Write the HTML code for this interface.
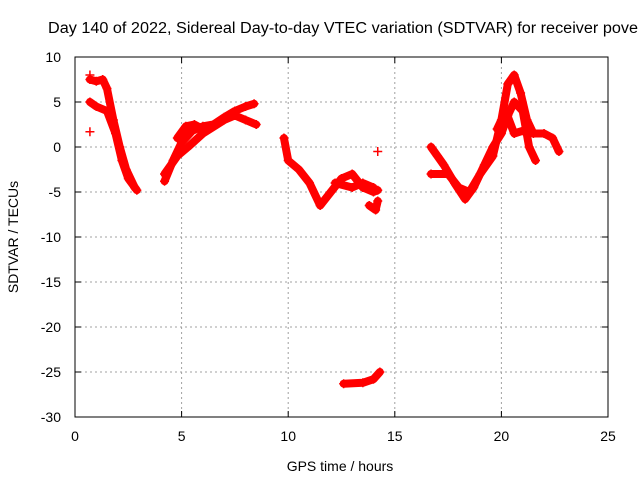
<!DOCTYPE html>
<html><head><meta charset="utf-8"><style>
body{margin:0;background:#fff;overflow:hidden}
svg{display:block;font-family:"Liberation Sans",sans-serif}
</style></head><body>
<svg id="chart" width="640" height="480" viewBox="0 0 640 480">
<text x="48" y="33" font-size="15.5" textLength="590" lengthAdjust="spacingAndGlyphs">Day 140 of 2022, Sidereal Day-to-day VTEC variation (SDTVAR) for receiver pove</text>
<g id="grid"></g>
<g id="axes"></g>
<g id="marks"></g>
<text x="340" y="471" font-size="14" text-anchor="middle">GPS time / hours</text>
<text transform="translate(18,237) rotate(-90)" font-size="14" text-anchor="middle">SDTVAR / TECUs</text>
</svg>
<script>
const xTicks=[0,5,10,15,20,25];
const yTicks=[10,5,0,-5,-10,-15,-20,-25,-30];
const trackA1=[[0.7,7.5],[1.0,7.3],[1.3,7.5],[1.5,6.5],[1.8,3],[2.1,0],[2.4,-2.5],[2.8,-4.5]];
const trackA2=[[0.7,5],[1.0,4.5],[1.5,4],[1.9,1.5],[2.2,-1.5],[2.5,-3.5],[2.9,-4.8]];
const trackB1=[[4.2,-3.8],[4.6,-1.5],[5,0.5],[5.5,1.8],[6,2.3],[6.5,2.5],[7,3.3],[7.5,4],[8,4.5],[8.4,4.8]];
const trackB2=[[4.2,-3],[4.8,-1],[5.3,0],[6,1.5],[7,3],[7.5,3.5],[8,3],[8.5,2.5]];
const trackB3=[[4.8,1],[5.2,2.3],[5.6,2.5],[6,2]];
const trackC1=[[9.8,1],[10,-1.5],[10.5,-2.5],[11,-4],[11.5,-6.5],[12,-5],[12.5,-3.5],[13,-3],[13.5,-4.5],[14,-5],[14.2,-4.8]];
const trackC2=[[12.2,-4],[13,-4.5],[13.5,-4],[14,-4.5]];
const trackC3=[[13.8,-6.5],[14.1,-7],[14.2,-6]];
const trackC4=[[12.6,-26.3],[13.5,-26.2],[14.0,-25.8],[14.3,-25]];
const trackD1=[[16.7,0],[17,-1],[17.3,-2],[17.8,-4],[18.3,-5.8],[18.7,-4.5],[19.2,-2],[19.6,0],[20,1.5],[20.3,3.5],[20.6,5],[21,4],[21.3,0],[21.6,-1.5]];
const trackD2=[[16.7,-3],[17.5,-3],[18,-4.5],[18.5,-5],[19,-3],[19.6,-1],[20,3],[20.3,7],[20.6,8],[20.9,6],[21.2,3],[21.5,1.5],[22,1.5],[22.4,1],[22.7,-0.5]];
const trackD3=[[19.8,2],[20.2,4],[20.6,1.5],[21,1.8]];
const singles=[[0.7,1.7],[0.7,8],[14.2,-0.5]];
const tracks=[trackA1,trackA2,trackB1,trackB2,trackB3,trackC1,trackC2,trackC3,trackC4,trackD1,trackD2,trackD3];
const X0=75,X1=608,Y0=417,Y1=57;
const sx=v=>X0+(v-0)/(25-0)*(X1-X0);
const sy=v=>Y0-(v+30)/(40)*(Y0-Y1);
const NS="http://www.w3.org/2000/svg";
function mk(t,a,p){const e=document.createElementNS(NS,t);for(const k in a)e.setAttribute(k,a[k]);p.appendChild(e);return e;}
const grid=document.getElementById('grid'),axes=document.getElementById('axes'),marks=document.getElementById('marks');
xTicks.forEach(t=>{const x=sx(t);
 if(t>0&&t<25){const g=mk('line',{x1:x,x2:x,y1:Y1,y2:Y0,stroke:'#a0a0a0','stroke-dasharray':'2,3'},grid);}
 mk('line',{x1:x,x2:x,y1:Y0,y2:Y0-6,stroke:'#000'},axes);mk('line',{x1:x,x2:x,y1:Y1,y2:Y1+6,stroke:'#000'},axes);
 const l=mk('text',{x:x,y:Y0+24,'font-size':14,'text-anchor':'middle'},axes);l.textContent=t;
 });
yTicks.forEach(t=>{const y=sy(t);
 if(t>-30&&t<10){const g=mk('line',{x1:X0,x2:X1,y1:y,y2:y,stroke:'#a0a0a0','stroke-dasharray':'2,3'},grid);}
 mk('line',{x1:X0,x2:X0+6,y1:y,y2:y,stroke:'#000'},axes);mk('line',{x1:X1,x2:X1-6,y1:y,y2:y,stroke:'#000'},axes);
 const l=mk('text',{x:X0-14,y:y+5,'font-size':14,'text-anchor':'end'},axes);l.textContent=t;
 });
const fr=mk('rect',{x:X0,y:Y1,width:X1-X0,height:Y0-Y1,fill:'none',stroke:'#000'},axes);

function plus(p){const x=sx(p[0]),y=sy(p[1]);
 const g=mk('path',{d:`M${x-4.5},${y}h9M${x},${y-4.5}v9`,stroke:'#f00','stroke-width':1.5},marks);
 }
tracks.forEach(tr=>{
 const pl=mk('polyline',{points:tr.map(p=>sx(p[0])+','+sy(p[1])).join(' '),fill:'none',stroke:'#f00','stroke-width':8,'stroke-linejoin':'round','stroke-linecap':'round'},marks);
 
 tr.forEach(plus);});
singles.forEach(plus);
</script>
</body></html>
